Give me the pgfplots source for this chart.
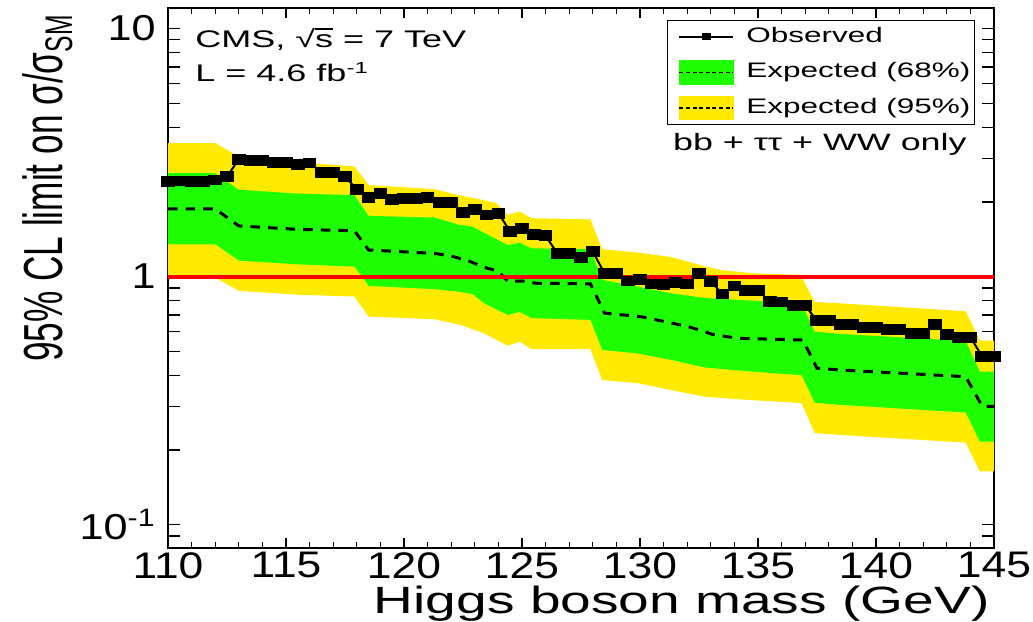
\documentclass[border=0pt]{standalone}
\usepackage{fontspec}
\setmainfont{Liberation Sans}
\newfontfamily\tickfont[FakeStretch=1.2]{Liberation Sans}
\newfontfamily\labfont[FakeStretch=1.45]{Liberation Sans}
\newfontfamily\ylabfont[FakeStretch=0.64]{Liberation Sans}
\newfontfamily\txtfont[FakeStretch=1.5]{Liberation Sans}
\newfontfamily\bbfont[FakeStretch=1.52]{Liberation Sans}
\usepackage{pgfplots}
\pgfplotsset{compat=1.18}
\definecolor{yel}{RGB}{255,234,0}
\definecolor{grn}{RGB}{30,255,0}
\newcommand\olS{\setbox0\hbox{s}\rlap{\rule[0.76em]{\wd0}{0.06em}}s}
\begin{document}
\begin{tikzpicture}
\begin{axis}[
  scale only axis, width=413pt, height=270pt,
  at={(0,0)}, anchor=south west,
  xmin=110, xmax=145, ymode=log, ymin=0.0805, ymax=12.1,
  xtick={110,115,...,145}, minor x tick num=4,
  ytick={0.1,1,10}, yticklabels={10\textsuperscript{-1},1,10},
  minor ytick={0.09,0.2,0.3,0.4,0.5,0.6,0.7,0.8,0.9,2,3,4,5,6,7,8,9},
  /pgf/number format/assume math mode=true,
  axis line style={line width=1pt},
  tick style={black, line width=0.6pt},
  major tick length=6pt, minor tick length=6pt,
  xtick style={/pgfplots/major tick length=5pt, /pgfplots/minor tick length=3pt},
  xticklabel style={font=\fontsize{18.5}{18.5}\tickfont, anchor=north, inner sep=0pt, text depth=0pt, yshift=-2pt},
  yticklabel style={font=\fontsize{18}{18}\tickfont, anchor=east, inner sep=0pt, xshift=-6pt},
  xlabel={Higgs boson mass (GeV)},
  xlabel style={font=\fontsize{19}{19}\labfont, at={(axis description cs:0.995,-0.1215)}, anchor=base east, inner sep=0pt},
  ylabel={95\% CL limit on σ/σ\textsubscript{SM}},
  ylabel style={font=\fontsize{27.5}{27.5}\ylabfont, at={(axis description cs:-0.128,0.989)}, anchor=base east, inner sep=0pt},
  legend style={at={(axis description cs:0.977,0.978)}, anchor=north east, draw=black, line width=0.6pt,
    font=\fontsize{10.5}{10.5}\txtfont, inner xsep=2pt, inner ysep=1pt, row sep=3.25pt, column sep=6pt,
    nodes={inner xsep=0pt, inner ysep=2pt, text height=8pt, text depth=2.5pt}},
  legend cell align=left,
]
% 95% band
\addplot[fill=yel, draw=none, forget plot] coordinates {
 (110,3.45) (112,3.45) (113,3.05) (115.5,2.90) (116,2.87) (117.9,2.78) (118.5,2.34) (121.3,2.25)
 (122.3,2.13) (123.3,2.04) (123.9,1.98) (124.4,1.77) (124.9,1.83) (125.4,1.72) (127.9,1.70)
 (128.4,1.29) (129.9,1.25) (131.3,1.20) (132.75,1.10) (133.5,1.06) (134.9,1.03) (136.8,1.015)
 (137.4,0.79) (138.5,0.78) (143.8,0.725) (144.4,0.552) (145,0.552)
 (145,0.164) (144.4,0.164) (143.8,0.214) (138.5,0.23) (137.4,0.234) (136.85,0.309) (134.2,0.32)
 (132.75,0.328) (131.3,0.349) (129.9,0.372) (128.4,0.383) (127.9,0.51) (125.4,0.51) (124.9,0.547)
 (124.4,0.526) (123.4,0.59) (122.4,0.638) (121.3,0.673) (118.5,0.69) (117.9,0.831) (115.5,0.845)
 (113,0.876) (112,0.99) (110,0.99)
} --cycle;
% 68% band
\addplot[fill=grn, draw=none, forget plot] coordinates {
 (110,2.61) (112,2.61) (113,2.24) (115.5,2.16) (117.9,2.13) (118.5,1.757) (121.3,1.73) (122.3,1.62)
 (122.9,1.59) (123.4,1.50) (124.4,1.34) (124.9,1.37) (125.4,1.30) (127.9,1.29) (128.4,0.97)
 (129.9,0.911) (131.3,0.857) (132.75,0.82) (134.2,0.805) (136.85,0.78) (137.4,0.60) (138.5,0.587)
 (143.8,0.55) (144.4,0.414) (145,0.414)
 (145,0.216) (144.4,0.216) (143.8,0.283) (138.5,0.304) (137.4,0.31) (136.85,0.40) (134.2,0.418)
 (132.75,0.43) (131.3,0.462) (129.9,0.49) (128.4,0.506) (127.9,0.669) (125.4,0.68) (124.9,0.72)
 (124.4,0.70) (123.4,0.78) (122.9,0.85) (122.3,0.87) (121.3,0.89) (118.5,0.917) (117.9,1.097)
 (115.5,1.12) (113,1.16) (112,1.35) (110,1.35)
} --cycle;
% expected median
\addplot[black, line width=1.5pt, dash pattern=on 4.8pt off 4pt, forget plot] coordinates {
 (110,1.875) (112,1.875) (113,1.60) (115.5,1.55) (117.9,1.53) (118.5,1.28) (121.3,1.24) (122,1.21)
 (122.7,1.16) (123.4,1.09) (124,1.05) (124.4,0.955) (125,0.96) (125.6,0.94) (127.9,0.935)
 (128.5,0.712) (130,0.69) (130.7,0.669) (132,0.63) (132.75,0.60) (133,0.587) (134.1,0.564)
 (136.9,0.555) (137.5,0.427) (138.5,0.42) (143.8,0.395) (144.5,0.30) (145,0.30)
};
% SM line
\addplot[red, line width=2pt, forget plot] coordinates {(110,1) (145,1)};
% observed
\addplot[black, line width=1pt, mark=square*, mark size=2.2pt, mark options={xscale=1.3, solid}, forget plot] coordinates {
 (110,2.42) (110.5,2.43) (111,2.42) (111.5,2.42) (112,2.45) (112.5,2.53) (113,2.97) (113.5,2.93)
 (114,2.93) (114.5,2.89) (115,2.89) (115.5,2.82) (116,2.87) (116.5,2.63) (117,2.63) (117.5,2.53)
 (118,2.25) (118.5,2.08) (119,2.17) (119.5,2.05) (120,2.06) (120.5,2.06) (121,2.08) (121.5,1.99)
 (122,1.99) (122.5,1.81) (123,1.86) (123.5,1.77) (124,1.80) (124.5,1.52) (125,1.56) (125.5,1.48)
 (126,1.46) (126.5,1.24) (127,1.24) (127.5,1.19) (128,1.26) (128.5,1.03) (129,1.03) (129.5,0.96)
 (130,0.976) (130.5,0.934) (131,0.93) (131.5,0.949) (132,0.934) (132.5,1.03) (133,0.955) (133.5,0.85)
 (134,0.917) (134.5,0.878) (135,0.88) (135.5,0.793) (136,0.79) (136.5,0.764) (137,0.764) (137.5,0.663)
 (138,0.663) (138.5,0.643) (139,0.643) (139.5,0.625) (140,0.625) (140.5,0.61) (141,0.61) (141.5,0.591)
 (142,0.591) (142.5,0.643) (143,0.586) (143.5,0.57) (144,0.57) (144.5,0.476) (145,0.476)
};
\addlegendimage{legend image code/.code={
  \path (0pt,0pt);
  \draw[black, line width=0.8pt] (3.5pt,0pt) -- (30.5pt,0pt);
  \fill[black] (15pt,-1.3pt) rectangle (19pt,1.5pt);}}
\addlegendentry{Observed}
\addlegendimage{legend image code/.code={
  \path (0pt,0pt);
  \fill[grn] (3.5pt,-5.75pt) rectangle (30.5pt,5.75pt);
  \draw[black, line width=0.6pt, dash pattern=on 2pt off 1.3pt] (3.5pt,0pt) -- (30.5pt,0pt);}}
\addlegendentry{Expected (68\%)}
\addlegendimage{legend image code/.code={
  \path (0pt,0pt);
  \fill[yel] (3.5pt,-5.75pt) rectangle (30.5pt,5.75pt);
  \draw[black, line width=0.6pt, dash pattern=on 2pt off 1.3pt] (3.5pt,0pt) -- (30.5pt,0pt);}}
\addlegendentry{Expected (95\%)}
\node[anchor=base west, inner sep=0pt, font=\fontsize{12}{12}\txtfont] at (axis description cs:0.0327,0.926) {CMS, √\olS\ = 7 TeV};
\node[anchor=base west, inner sep=0pt, font=\fontsize{12}{12}\txtfont] at (axis description cs:0.0327,0.863) {L = 4.6 fb\textsuperscript{-1}};
\node[anchor=base west, inner sep=0pt, font=\fontsize{11.8}{11.8}\bbfont] at (axis description cs:0.611,0.737) {bb + ττ + WW only};
\end{axis}
\pgfresetboundingbox
\path[use as bounding box] (-84pt,-36.5pt) rectangle (432.5pt,274pt);
\end{tikzpicture}
\end{document}
